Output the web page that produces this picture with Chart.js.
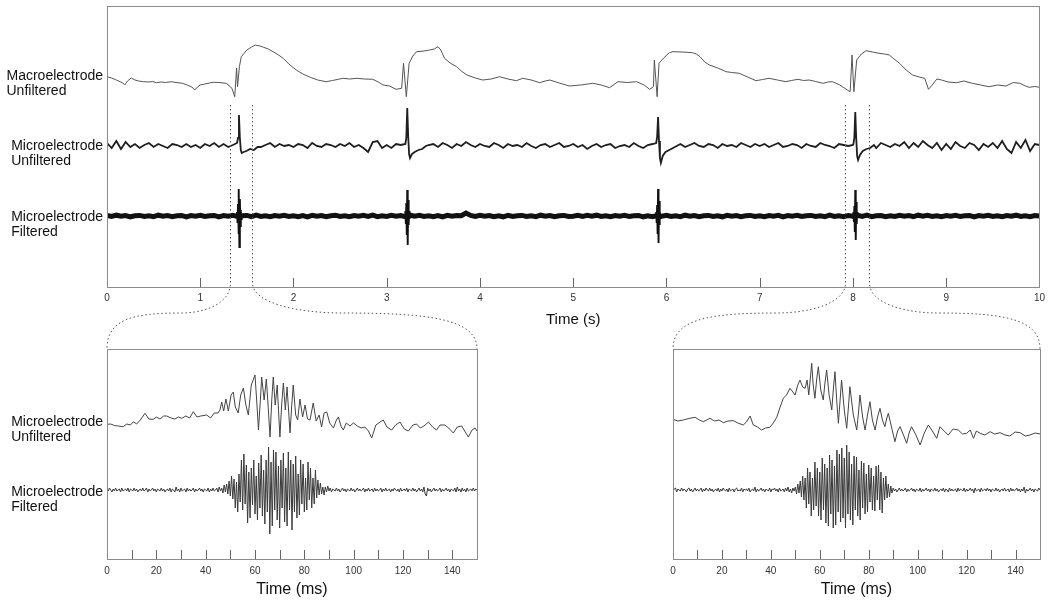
<!DOCTYPE html>
<html>
<head>
<meta charset="utf-8">
<script src="https://cdn.jsdelivr.net/npm/chart.js@4.4.1/dist/chart.umd.min.js"></script>
<style>
  html, body { margin: 0; background: #fff; }
  #wrap { position: relative; width: 1050px; height: 610px; overflow: hidden; }
  #wrap canvas { position: absolute; }
</style>
</head>
<body>
<div id="wrap">
  <canvas id="topChart" width="1050" height="350" style="left:0px;top:0px"></canvas>
  <canvas id="zoomLeft" width="490" height="270" style="left:0px;top:340px"></canvas>
  <canvas id="zoomRight" width="490" height="270" style="left:560px;top:340px"></canvas>
  <canvas id="links" width="1050" height="610" style="left:0px;top:0px"></canvas>
</div>
<script>
// ---- top panel (seconds) ----
// macroelectrode trace, [time s, amplitude]
const macroTrace = [
  [0,3.3],[0.05,2],[0.1,0],[0.14,-1.7],[0.17,-3],[0.19,-5],[0.22,-1],[0.26,2],[0.3,0],[0.34,-1],
  [0.39,-1.7],[0.45,-2],[0.49,-1.5],[0.53,-2.7],[0.58,-2],[0.63,-2.5],[0.69,-1.7],[0.74,-2.5],[0.81,-3.3],[0.86,-5],
  [0.91,-7],[0.94,-10],[0.97,-7],[1,-5],[1.05,-4],[1.1,-3],[1.14,-2.3],[1.2,-2.5],[1.28,-3.3],[1.34,-8.3],
  [1.37,-16.7],[1.39,12],[1.4,-6.7],[1.42,13.3],[1.44,23.3],[1.5,30],[1.55,33],[1.59,35],[1.64,34],[1.68,32.7],
  [1.73,31],[1.78,28.3],[1.84,25],[1.89,21.7],[1.95,16],[2.03,10],[2.1,6],[2.18,2.7],[2.26,0],[2.35,-1.7],
  [2.42,-0.5],[2.48,0.7],[2.53,1.7],[2.6,1],[2.68,1.7],[2.76,1],[2.85,0.7],[2.91,-2],[2.96,-5],[3.03,-6],
  [3.1,-9.3],[3.16,-8.3],[3.18,16.7],[3.21,-16.7],[3.24,16.7],[3.28,24],[3.32,28.3],[3.4,29],[3.46,30],[3.51,31],
  [3.55,33.3],[3.58,30],[3.62,21.7],[3.68,17],[3.75,13.3],[3.8,9],[3.86,5],[3.95,2],[4.03,0],[4.12,1],
  [4.21,3.3],[4.3,1],[4.39,-0.7],[4.46,1.7],[4.55,0],[4.64,-2.7],[4.7,-1],[4.75,0],[4.85,-3],[4.96,-6],
  [5.08,-5],[5.21,-3.3],[5.3,-5],[5.39,-7.7],[5.48,-1.7],[5.58,-2.5],[5.68,-1.7],[5.76,-5],[5.82,-9.3],[5.86,-6.7],
  [5.87,20],[5.9,-16.7],[5.92,16.7],[5.97,22],[6.03,27.3],[6.07,28.3],[6.17,28],[6.28,27.3],[6.32,26],[6.36,23.3],
  [6.41,18],[6.46,15],[6.55,12],[6.64,8.3],[6.7,7.5],[6.78,6.7],[6.87,3],[6.96,-0.7],[7.03,0.5],[7.1,1.7],
  [7.19,0],[7.28,-1.7],[7.34,-0.5],[7.41,0.7],[7.47,-0.5],[7.53,0],[7.6,-1.5],[7.68,-3.3],[7.73,-2],[7.78,-1.7],
  [7.86,-5],[7.94,-10],[7.97,-11.7],[7.99,25],[8.01,-11.7],[8.04,20],[8.09,26],[8.14,29.3],[8.21,28],[8.28,26.7],
  [8.34,26],[8.39,25],[8.44,21],[8.5,16.7],[8.57,10],[8.64,5],[8.71,3],[8.77,1.7],[8.81,-9.3],[8.85,-5],
  [8.9,1],[8.95,0],[9.02,-2],[9.11,-2.7],[9.19,-1],[9.28,-3.3],[9.37,-5],[9.46,-6.7],[9.55,-5],[9.64,-6],
  [9.72,-2.5],[9.79,-3.3],[9.85,-6],[9.89,-7.3],[9.95,-6.5],[10,-7.3]
];

// microelectrode background, one value every 0.05 s from 0 to 10 s
const gridStepS = 0.05;
const microUnfNoise = [
  3,-2,5,-3,4,-1,2,-2,1,3,-1,2,0,-2,2,1,-1,2,-1,1,
  -2,2,0,3,-1,2,-1,1,3,-2,1,0,2,-1,1,3,-1,2,0,1,
  -1,2,1,-2,3,0,-1,2,1,-1,2,0,3,-1,1,-2,-6,4,5,-2,
  1,-2,2,1,-1,2,0,3,-1,1,2,-1,3,1,-2,2,0,4,1,-1,
  2,0,-1,3,1,-2,2,0,1,-1,3,0,-2,1,2,-1,1,3,-1,0,
  2,-1,1,-3,0,2,-1,1,2,-2,0,1,-1,3,0,-2,1,2,0,1,
  -1,1,0,2,-1,1,3,0,-1,2,1,-2,2,0,1,-1,3,1,-1,2,
  0,2,-1,1,3,-1,0,2,1,-2,2,0,-1,3,1,0,-2,2,1,0,
  1,-1,2,0,1,-2,3,1,-1,2,0,4,-2,3,-1,5,1,-2,3,-4,
  2,-3,4,0,-2,3,1,-4,2,-1,3,-2,5,-3,-7,4,-2,6,-5,2,
  1
];
const microFiltNoise = [
  0.6,-0.5,0.8,-0.3,0.5,-0.8,0.3,0.6,-0.5,0.3,-0.6,0.8,-0.3,0.5,-0.6,0.3,0.6,-0.8,0.5,-0.3,
  0.6,-0.5,0.3,0.6,-0.8,0.5,-0.3,0.6,-0.5,0.3,0.6,-0.6,0.8,-0.5,0.3,-0.6,0.5,-0.3,0.6,-0.5,
  0.3,-0.6,0.5,-0.8,0.6,-0.3,0.5,-0.6,0.3,0.8,-0.5,0.3,-0.6,0.5,-0.3,0.6,-0.5,0.8,-0.6,0.3,
  -0.5,0.6,-0.3,0.5,-0.6,0.8,-0.3,0.6,-0.5,0.3,-0.6,0.5,-0.8,0.6,-0.3,0.5,0.3,3,0.6,-0.5,
  0.6,-0.3,0.5,-0.6,0.3,-0.8,0.6,-0.5,0.3,0.6,-0.5,0.3,-0.6,0.8,-0.3,0.5,-0.6,0.3,0.6,-0.5,
  -0.3,0.6,-0.5,0.6,-0.3,0.8,-0.5,0.3,-0.6,0.5,-0.3,0.6,-0.5,0.3,0.6,-0.8,0.3,-0.6,0.5,-0.3,
  0.6,-0.5,0.3,-0.6,0.8,-0.3,0.5,-0.6,0.3,0.6,-0.5,0.3,-0.8,0.6,-0.3,0.5,-0.6,0.3,0.6,-0.5,
  0.3,-0.6,0.5,-0.3,0.6,-0.8,0.5,-0.3,0.6,-0.5,0.3,0.6,-0.5,0.3,-0.6,0.8,-0.5,0.3,-0.6,0.5,
  -0.3,0.6,-0.5,0.8,-0.6,0.3,0.5,-0.6,0.3,-0.5,0.6,-0.3,0.5,-0.6,0.8,-0.3,0.6,-0.5,0.3,-0.6,
  0.5,-0.3,0.6,-0.5,0.3,0.6,-0.8,0.5,-0.3,0.6,-0.5,0.3,-0.6,0.5,-0.3,0.8,-0.5,0.3,-0.6,0.5,
  0
];

// discharges
const spikeTimes = [1.415, 3.22, 5.91, 8.025];
const unfSpikeOffsets = [-0.02, -0.01, 0, 0.01, 0.02, 0.03, 0.05, 0.08, 0.12, 0.16, 0.2];
const unfSpikeValues = [
  [3, 8, 31, 8, -4, -7, -6, -5, -3, -4, -1],
  [2, 8, 38, 10, -8, -12, -8, -6, -4, -3, 0],
  [3, 9, 29, 5, -12, -17, -10, -6, -4, -2, 0],
  [2, 8, 34, 8, -10, -14, -9, -5, -3, -2, 1]
];
const filtSpikeOffsets = [-0.03, -0.025, -0.02, -0.015, -0.01, -0.005, 0, 0.005, 0.01, 0.015, 0.02, 0.025, 0.03];
const filtSpikeValues = [
  [1, -2, 4, -7, 12, -18, 27, -31, 17, -10, 6, -3, 1],
  [1, -3, 5, -8, 13, -19, 26, -29, 16, -9, 5, -3, 1],
  [1, -2, 4, -7, 11, -18, 27, -27, 15, -9, 5, -2, 1],
  [1, -2, 4, -6, 10, -16, 26, -24, 14, -8, 4, -2, 1]
];

// windows shown in the lower panels (s)
const zoomWindows = [[1.32, 1.555], [7.92, 8.17]];

// ---- lower panels (milliseconds) ----
const leftUnfiltered = [
  [0,0.7],[1.5,1],[3,-0.5],[4.5,-1],[6.6,-1.7],[8,1],[9.5,0],[10.7,3.3],[12,1],[13.5,5],
  [15.4,11.7],[17,6],[18.8,5.7],[20,8],[21.5,6],[23,9],[24.2,9],[26,7],[27.5,6],[29,8],
  [30.3,6.7],[32,9],[33.5,7],[35,13.3],[36.5,8],[38,9],[40.4,10],[42,7],[43.5,12],[45,12],
  [45.8,15],[46.5,23],[47.3,14],[48.2,26],[49.2,14],[50.3,30],[51.2,33],[52,18],[53.2,12],[54.2,30],
  [55.3,37],[56.3,20],[57.3,10],[58.5,40],[60,50],[60.8,20],[61.4,-5],[62.3,30],[62.7,48],[63.7,25],
  [64.6,46],[65.3,20],[66.1,-12],[66.8,25],[67.4,48],[68.2,20],[69,40],[70.1,-12],[70.8,20],[71.5,42],
  [72.3,15],[73,38],[74.2,-8],[74.9,20],[75.5,40],[76.5,10],[77.3,5],[78.2,26],[79.3,8],[80.3,20],
  [81.3,6],[82.3,5],[83.6,22],[84.8,4],[86,10],[87,-2],[88,12],[89.1,13],[90.3,2],[91.8,-3],
  [93,5],[93.8,8],[95,-2],[95.8,-5],[97,2],[98.5,-1],[99.9,2],[101.5,-1],[103,-3],[104.5,-2],
  [106,-6],[107.3,-13],[109,0],[110.7,3],[112,5],[113.5,-2],[115.4,-5],[117,0],[118.8,3],[120.5,-4],
  [122.2,-6],[124,0],[125.5,1],[127,-3],[128.5,-1],[130.3,3],[132,-2],[133.6,-5],[135,0],[137,0],
  [138.5,-3],[140.4,-8],[142,-2],[143.8,-1],[145,-6],[146.5,-12],[148,-5],[149.2,-3],[150,-6]
];
const rightUnfiltered = [
  [0,5.7],[2,4],[4.2,5],[6.5,6.5],[9,7.7],[10.8,5],[12.4,3.3],[13.8,5],[15.1,6.7],[17,4],
  [18.8,5],[20.6,2.3],[22.5,4],[24.7,4.3],[26.5,2],[28.7,0],[30,3],[31.5,9],[32.8,0],[34.5,-2],
  [36.2,-5],[37.8,-3],[39.6,-2.3],[41,2],[42.4,7.7],[43.8,18],[45.1,26.7],[46.4,30],[47.8,36.7],[49,33],
  [49.9,30],[51,40],[51.9,45],[53,38],[54,36.7],[54.8,45],[55.5,30],[56.7,61.7],[57.3,40],[58,26.7],
  [58.7,45],[59.4,58.3],[60.4,35],[61.4,25],[62.1,42],[62.8,55],[63.8,30],[64.9,15],[65.6,38],[66.2,53.3],
  [66.9,25],[67.6,1.7],[68.3,25],[68.9,45],[70,15],[71,-3.3],[71.7,18],[72.3,38.3],[73.7,10],[75.1,-5],
  [75.8,12],[76.4,30],[77.5,8],[78.5,-5],[79.5,10],[80.5,23.3],[81.5,5],[82.6,-5],[83.6,8],[84.6,16.7],
  [85.6,5],[86.6,-1.7],[87.3,6],[88,11.7],[89.3,-2],[90.7,-16.7],[91.8,-6],[92.8,-1.7],[94.2,-10],[95.5,-18.3],
  [96.5,-8],[97.5,-1.7],[99.3,-10],[101,-20],[102.7,-8],[104.4,0],[106,-6],[107.8,-13.3],[109.1,-1.7],[110.8,-6],
  [112.5,-10],[114.5,-4],[116.6,-5],[118.3,-9],[120,-8.3],[121.5,-5],[122.8,-13.3],[124,-6],[125.5,-8.3],[127.5,-10],
  [129.6,-6.7],[131.5,-9],[133.7,-7.7],[135.7,-10],[137.7,-11],[139.8,-7],[141.8,-7.7],[144,-11],[145.9,-10],[148,-8],
  [150,-9]
];

// filtered traces, one value every 0.5 ms from 0 to 150 ms
const filtStepMs = 0.5;
const leftFiltered = [
  1,-1,2,0,-2,1,-1,2,-1,0,
  1,-2,2,-1,0,1,-1,2,-2,1,
  0,-1,2,-1,1,-2,0,1,-1,2,
  -1,0,2,-2,1,-1,0,2,-1,1,
  -2,1,0,-1,2,-1,1,-2,0,1,
  -1,2,-2,1,0,-2,3,-1,1,-2,
  2,-1,0,1,-2,2,-1,1,-1,0,
  2,-2,1,-1,0,2,-1,1,-2,1,
  0,-1,2,-2,1,-1,2,-1,0,2,
  -2,3,-1,2,-3,5,-2,6,-4,9,
  -6,14,-9,11,-18,8,-22,16,-12,30,
  -20,36,-14,25,-33,18,-28,22,-15,30,
  -24,14,-30,27,-18,35,-26,20,-34,30,
  -22,43,-44,28,-36,40,-20,38,-30,24,
  -38,30,-18,37,-32,22,-36,38,-20,30,
  -40,26,-22,34,-28,16,-25,30,-14,26,
  -22,12,-20,28,-10,22,-18,12,-14,20,
  -8,10,-5,7,-4,3,-5,3,-2,4,
  -1,2,-2,1,0,-1,2,-1,1,-2,
  0,2,-1,1,-2,1,0,-1,2,-1,
  1,-2,0,2,-1,1,-1,0,2,-2,
  1,-1,2,-1,0,1,-2,2,-1,1,
  -1,0,2,-2,1,-1,2,-1,0,1,
  -2,1,-1,2,0,-1,1,-2,2,-1,
  0,1,-1,2,-2,1,0,-1,2,-1,
  1,-2,0,2,-1,1,-2,3,-4,-6,
  2,-1,1,-2,0,2,-1,1,-1,0,
  2,-2,1,-1,0,2,-1,1,-2,1,
  0,-1,2,-2,3,-1,1,-2,2,-1,
  1,-2,2,-1,0,1,-1,2,-1,1,
  0
];
const rightFiltered = [
  -1,1,2,-2,1,0,-1,2,-1,1,
  0,-2,1,2,-1,1,-2,0,2,-1,
  1,-1,0,2,-2,1,-1,2,0,-1,
  2,-1,1,-2,0,1,-1,2,-2,1,
  -1,2,0,-1,1,-2,2,-1,0,1,
  -2,1,2,-1,0,-1,2,-2,1,0,
  1,-1,2,-2,0,1,-1,3,-2,1,
  -1,0,2,-1,1,-2,1,0,-1,2,
  -2,1,0,2,-1,1,-2,2,-1,0,
  1,-2,2,-1,3,-2,1,-3,2,-1,
  3,-4,6,-3,9,-7,14,-10,12,-18,
  22,-14,18,-26,12,-20,28,-16,22,-26,
  18,-30,32,-20,26,-33,22,-36,35,-24,
  30,-38,24,-35,40,-22,36,-32,42,-28,
  32,-38,45,-24,38,-30,26,-35,34,-20,
  33,-26,20,-30,29,-18,27,-24,16,-22,
  25,-12,22,-20,14,-21,24,-10,25,-20,
  18,-23,12,-10,14,-8,6,-7,4,-3,
  2,-1,1,-2,0,2,-1,1,-1,0,
  2,-2,1,-1,0,2,-1,1,-2,1,
  0,-1,2,-2,1,-1,0,2,-1,1,
  -2,1,0,-1,2,-1,1,-2,0,1,
  -1,2,-2,1,0,-2,2,-1,1,-1,
  0,1,-2,2,-1,1,0,-1,2,-2,
  1,-1,0,2,-1,1,-3,2,-1,0,
  1,-2,2,-1,0,1,-1,2,-1,1,
  -2,1,0,-1,2,-1,1,-2,0,1,
  -1,2,-1,0,1,-2,2,-1,1,-1,
  0,2,-1,1,-2,1,-1,3,-3,1,
  -1,0,2,-1,1,-2,1,0,-1,2,
  0
];

const FONT = '"Liberation Sans", Arial, Helvetica, sans-serif';
Chart.defaults.font.family = FONT;
Chart.defaults.color = '#222';

const pairs = arr => arr.map(([x, y]) => ({x, y}));
const onGrid = (arr, step) => arr.map((y, i) => ({x: i * step, y}));

// background trace with the discharge shapes spliced in
function withSpikes(noise, offsets, shapes) {
  const lo = offsets[0], hi = offsets[offsets.length - 1];
  const pts = [];
  noise.forEach((y, i) => {
    const t = i * gridStepS;
    if (!spikeTimes.some(s => t >= s + lo - 0.001 && t <= s + hi + 0.001)) pts.push({x: t, y});
  });
  spikeTimes.forEach((s, k) => offsets.forEach((o, j) => pts.push({x: s + o, y: shapes[k][j]})));
  return pts.sort((a, b) => a.x - b.x);
}

// discharge shapes only, separated by gaps
function spikesOnly(offsets, shapes) {
  const pts = [];
  spikeTimes.forEach((s, k) => {
    offsets.forEach((o, j) => pts.push({x: s + o, y: shapes[k][j]}));
    pts.push({x: s + offsets[offsets.length - 1] + 0.01, y: null});
  });
  return pts;
}

// box, inward tick marks and row labels
const framePlugin = {
  id: 'frame',
  afterDatasetsDraw(chart, args, opts) {
    const {ctx, chartArea: a} = chart;
    const x = chart.scales.x;
    ctx.save();
    ctx.strokeStyle = '#8c8c8c';
    ctx.lineWidth = 1;
    ctx.strokeRect(Math.round(a.left) + 0.5, Math.round(a.top) + 0.5, Math.round(a.width), Math.round(a.height));
    ctx.strokeStyle = '#666';
    x.ticks.forEach(t => {
      if (t.value <= x.min || t.value >= x.max) return;
      const px = Math.round(x.getPixelForValue(t.value)) + 0.5;
      ctx.beginPath();
      ctx.moveTo(px, a.bottom);
      ctx.lineTo(px, a.bottom - opts.tickLen);
      ctx.stroke();
    });
    ctx.fillStyle = '#111';
    ctx.font = '14px ' + FONT;
    ctx.textAlign = 'left';
    ctx.textBaseline = 'middle';
    (opts.labels || []).forEach(l => {
      const y0 = chart.scales[l.axis].getPixelForValue(0) + l.dy;
      const w = Math.max(...l.lines.map(s => ctx.measureText(s).width));
      const x0 = a.left - 4 - w;
      l.lines.forEach((s, i) => ctx.fillText(s, x0, y0 + i * 15.5));
    });
    ctx.restore();
  }
};

const line = (data, axis, color, width) => ({
  data, yAxisID: axis, borderColor: color, borderWidth: width,
  pointRadius: 0, tension: 0, fill: false, spanGaps: false
});

const hidden = (min, max) => ({type: 'linear', display: false, min, max});

const topChart = new Chart(document.getElementById('topChart'), {
  type: 'line',
  data: {
    datasets: [
      line(pairs(macroTrace), 'yMacro', '#555', 1),
      line(withSpikes(microUnfNoise, unfSpikeOffsets, unfSpikeValues), 'yUnf', '#1e1e1e', 1.8),
      line(onGrid(microFiltNoise, gridStepS), 'yFilt', '#111', 5),
      line(spikesOnly(filtSpikeOffsets, filtSpikeValues), 'yFilt', '#111', 1.9)
    ]
  },
  options: {
    responsive: false,
    animation: false,
    events: [],
    layout: {padding: {left: 107, right: 10, top: 6, bottom: 0}},
    plugins: {
      legend: {display: false},
      tooltip: {enabled: false},
      frame: {
        tickLen: 9,
        labels: [
          {axis: 'yMacro', lines: ['Macroelectrode', 'Unfiltered'], dy: -4},
          {axis: 'yUnf', lines: ['Microelectrode', 'Unfiltered'], dy: 0},
          {axis: 'yFilt', lines: ['Microelectrode', 'Filtered'], dy: 1}
        ]
      }
    },
    scales: {
      x: {
        type: 'linear', min: 0, max: 10,
        grid: {display: false, drawTicks: false},
        border: {display: false},
        ticks: {stepSize: 1, padding: 5, color: '#333', font: {size: 10}},
        title: {display: true, text: 'Time (s)', color: '#111', font: {size: 15}, padding: {top: 0, bottom: 21}},
        afterFit(s) { s.height = 63; }
      },
      yMacro: hidden(-207, 74),
      yUnf: hidden(-141, 140),
      yFilt: hidden(-71, 210)
    }
  },
  plugins: [framePlugin]
});

function zoomChart(id, unf, filt, padLeft, padRight, labels) {
  return new Chart(document.getElementById(id), {
    type: 'line',
    data: {
      datasets: [
        line(pairs(unf), 'yUnf', '#444', 1),
        line(onGrid(filt, filtStepMs), 'yFilt', '#3a3a3a', 1)
      ]
    },
    options: {
      responsive: false,
      animation: false,
      events: [],
      layout: {padding: {left: padLeft, right: padRight, top: 9, bottom: 0}},
      plugins: {
        legend: {display: false},
        tooltip: {enabled: false},
        frame: {tickLen: 9, labels}
      },
      scales: {
        x: {
          type: 'linear', min: 0, max: 150,
          grid: {display: false, drawTicks: false},
          border: {display: false},
          ticks: {
            stepSize: 10, autoSkip: false, maxRotation: 0, padding: 6, color: '#333', font: {size: 10},
            callback: v => (v % 20 === 0 && v < 150) ? v : ''
          },
          title: {display: true, text: 'Time (ms)', color: '#111', font: {size: 16}, padding: {top: 0, bottom: 11}},
          afterFit(s) { s.height = 51; }
        },
        yUnf: hidden(-134, 76),
        yFilt: hidden(-69, 141)
      }
    },
    plugins: [framePlugin]
  });
}

const zoomLeft = zoomChart('zoomLeft', leftUnfiltered, leftFiltered, 107, 13, [
  {axis: 'yUnf', lines: ['Microelectrode', 'Unfiltered'], dy: -3},
  {axis: 'yFilt', lines: ['Microelectrode', 'Filtered'], dy: 2}
]);
const zoomRight = zoomChart('zoomRight', rightUnfiltered, rightFiltered, 113, 10, []);

// dotted guides from the top panel down to the corners of the zoomed panels
(function drawLinks() {
  const c = document.getElementById('links').getContext('2d');
  const x = topChart.scales.x;
  const yStart = topChart.scales.yUnf.getPixelForValue(41);
  const bottom = topChart.chartArea.bottom;
  const yMid = bottom + 26;
  c.strokeStyle = '#555';
  c.lineWidth = 1;
  c.setLineDash([1.5, 2.5]);
  [[zoomWindows[0], zoomLeft, 0], [zoomWindows[1], zoomRight, 560]].forEach(([win, ch, offX]) => {
    const box = ch.chartArea;
    const boxTop = 340 + box.top;
    const corners = [offX + box.left, offX + box.right];
    win.forEach((t, k) => {
      const px = Math.round(x.getPixelForValue(t)) + 0.5;
      const cx = corners[k];
      const mid = px + (cx - px) * 0.4;
      c.beginPath();
      c.moveTo(px, yStart);
      c.lineTo(px, bottom - 4);
      c.bezierCurveTo(px, bottom + 16, px + (mid - px) * 0.5, yMid, mid, yMid);
      c.bezierCurveTo(mid + (cx - mid) * 0.65, yMid, cx, yMid + 6, cx, boxTop);
      c.stroke();
    });
  });
})();
</script>
</body>
</html>
